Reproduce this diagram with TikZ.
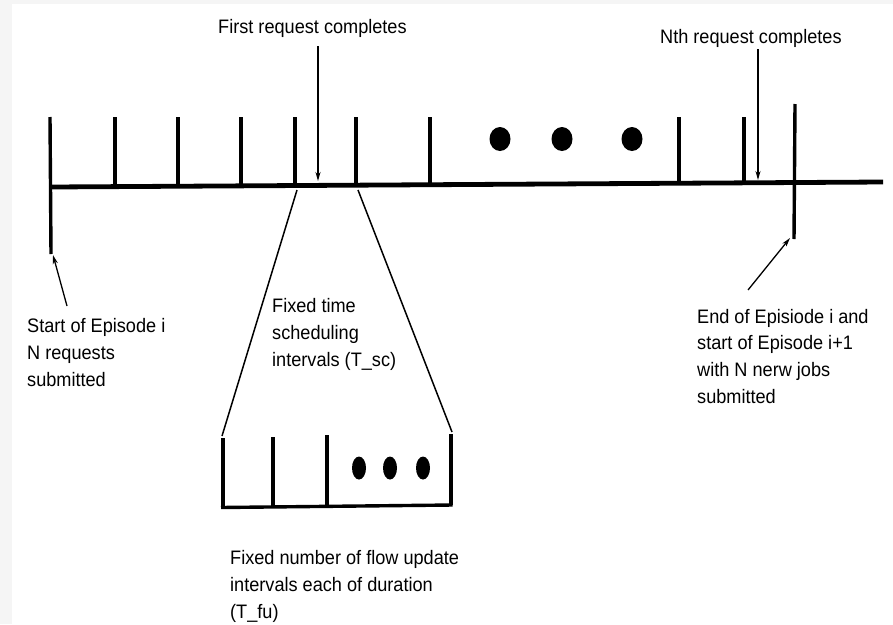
\documentclass[tikz,border=0pt]{standalone}
\usepackage{fontspec}
\setmainfont{Liberation Sans}[FakeStretch=0.93]
\usetikzlibrary{arrows.meta}
\tikzset{
  axis/.style={line width=4.8pt},
  tick/.style={line width=3.4pt},
  thin/.style={line width=1.5pt},
  pointer/.style={line width=1.3pt,-{Stealth[length=9pt,width=5pt]}},
  % multi-line labels are placed by the baseline of their last line
  label/.style={anchor=base west,inner sep=0pt,align=left,
    font=\fontsize{19.5}{26.6}\selectfont},
  bigdot/.style={fill=black,x radius=10.5,y radius=12},
  smalldot/.style={fill=black,x radius=7,y radius=11.5}
}
\begin{document}
\begin{tikzpicture}[x=1pt,y=-1pt]
\useasboundingbox (0,0) rectangle (893,624);
% page edge shading
\fill[black!4] (0,0) rectangle (893,4);
\fill[black!4] (0,0) rectangle (12,624);

% time axis
\coordinate (axL) at (52,187);
\coordinate (axR) at (883,182);
\draw[axis] (axL) -- (axR);

% start-of-episode marker
\coordinate (s0t) at (50,117);
\coordinate (s0b) at (51,254);
\draw[tick] (s0t) -- (s0b);

% scheduling interval ticks
\foreach \x/\y [count=\i] in {115/186.5,178/186,241/185.5,295/185,356/184.7,430/184.5,679/183,744/182.6}{
  \coordinate (t\i) at (\x,117);
  \coordinate (b\i) at (\x,\y);
  \draw[tick] (t\i) -- (b\i);
}

% end-of-episode marker
\coordinate (eT) at (795,104);
\coordinate (eB) at (794,239);
\draw[tick] (eT) -- (eB);

% ellipsis on the axis
\foreach \x in {500,562,632} \fill[bigdot] (\x,139) ellipse [];

% top labels and arrows
\node[label] (first) at (218,33) {First request completes};
\node[label] (nth) at (660,43) {Nth request completes};
\coordinate (fA) at (318,46);
\coordinate (fB) at (318,181);
\draw[pointer] (fA) -- (fB);
\coordinate (nA) at (758,49);
\coordinate (nB) at (758,180);
\draw[pointer] (nA) -- (nB);

% lower labels
\node[label] (start) at (27,386) {Start of Episode i\\N requests\\submitted};
\node[label] (fixed) at (272,366) {Fixed time\\scheduling\\intervals (T\_sc)};
\node[label] (endep) at (697,403) {End of Episiode i and\\start of Episode i+1\\with N nerw jobs\\submitted};
\node[label] (flow) at (230,618) {Fixed number of flow update\\intervals each of duration\\(T\_fu)};

\coordinate (sA) at (67,306);
\coordinate (sB) at (53,255);
\draw[pointer] (sA) -- (sB);
\coordinate (eA) at (748,290);
\coordinate (eP) at (790,238);
\draw[pointer] (eA) -- (eP);

% zoom-in lines
\coordinate (zL1) at (297,190);
\coordinate (zL2) at (222,436);
\coordinate (zR1) at (358,190);
\coordinate (zR2) at (452,432);
\draw[thin] (zL1) -- (zL2);
\draw[thin] (zR1) -- (zR2);

% flow update intervals
\coordinate (fbL) at (221,507.5);
\coordinate (fbR) at (452.5,505);
\draw[tick] (fbL) -- (fbR);
\foreach \x/\t/\y [count=\i] in {223/438/507.5,273/437/507,327/435/505.5,451/434/505}{
  \coordinate (ft\i) at (\x,\t);
  \coordinate (fb\i) at (\x,\y);
  \draw[tick] (ft\i) -- (fb\i);
}
\foreach \x in {359,390,423} \fill[smalldot] (\x,468) ellipse [];
\end{tikzpicture}
\end{document}
